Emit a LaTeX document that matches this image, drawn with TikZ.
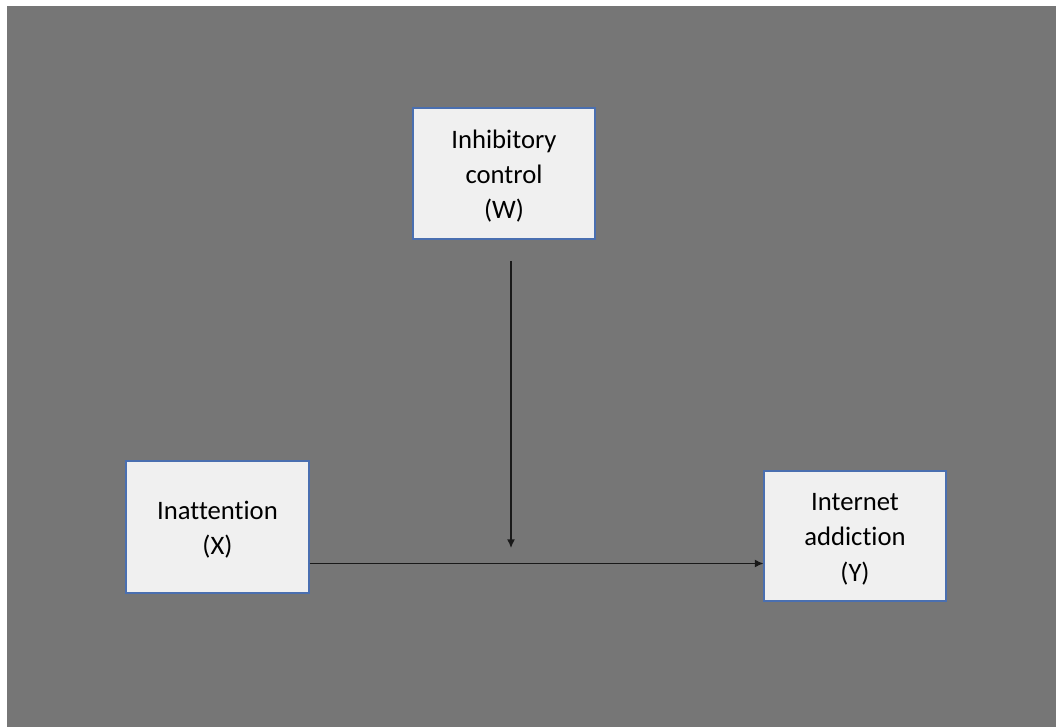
\documentclass[tikz,border=0pt]{standalone}
\usepackage{fontspec}
\setmainfont{Carlito}[Ligatures=NoCommon]
\usetikzlibrary{arrows.meta}
\definecolor{bggray}{HTML}{767676}
\definecolor{boxfill}{HTML}{F0F0F0}
\definecolor{boxline}{HTML}{4A6FB0}
\newcommand{\boxtext}[1]{\raisebox{-2.2pt}[\height][\depth]{\begin{tabular}{@{}c@{}}#1\end{tabular}}}
\tikzset{
  varbox/.style={draw=boxline, line width=0.8pt, fill=boxfill, inner sep=0pt,
    font=\fontsize{20}{26.3}\selectfont, text=black},
  conn/.style={draw=black!90, line width=1pt, -{Latex[length=6.5pt,width=6pt]}}
}
\begin{document}
\begin{tikzpicture}[x=0.75pt,y=-0.75pt]
\useasboundingbox (0,0) rectangle (1056,727);
\fill[white] (0,0) rectangle (1056,727);
\fill[bggray] (7,6) rectangle (1056,727);
\node[varbox, minimum width=182*0.75pt, minimum height=131*0.75pt] (W) at (504,173.5) {\boxtext{Inhibitory\\control\\(W)}};
\node[varbox, minimum width=183*0.75pt, minimum height=132*0.75pt] (X) at (217.5,527) {\boxtext{Inattention\\(X)}};
\node[varbox, minimum width=182*0.75pt, minimum height=130*0.75pt] (Y) at (855,536) {\boxtext{Internet\\addiction\\(Y)}};
\coordinate (wtop) at (511,261);
\coordinate (wend) at (511,548);
\coordinate (hy) at (0,563.5);
\draw[conn] (wtop) -- (wend);
\draw[conn] (X.east |- hy) -- (Y.west |- hy);
\end{tikzpicture}
\end{document}
